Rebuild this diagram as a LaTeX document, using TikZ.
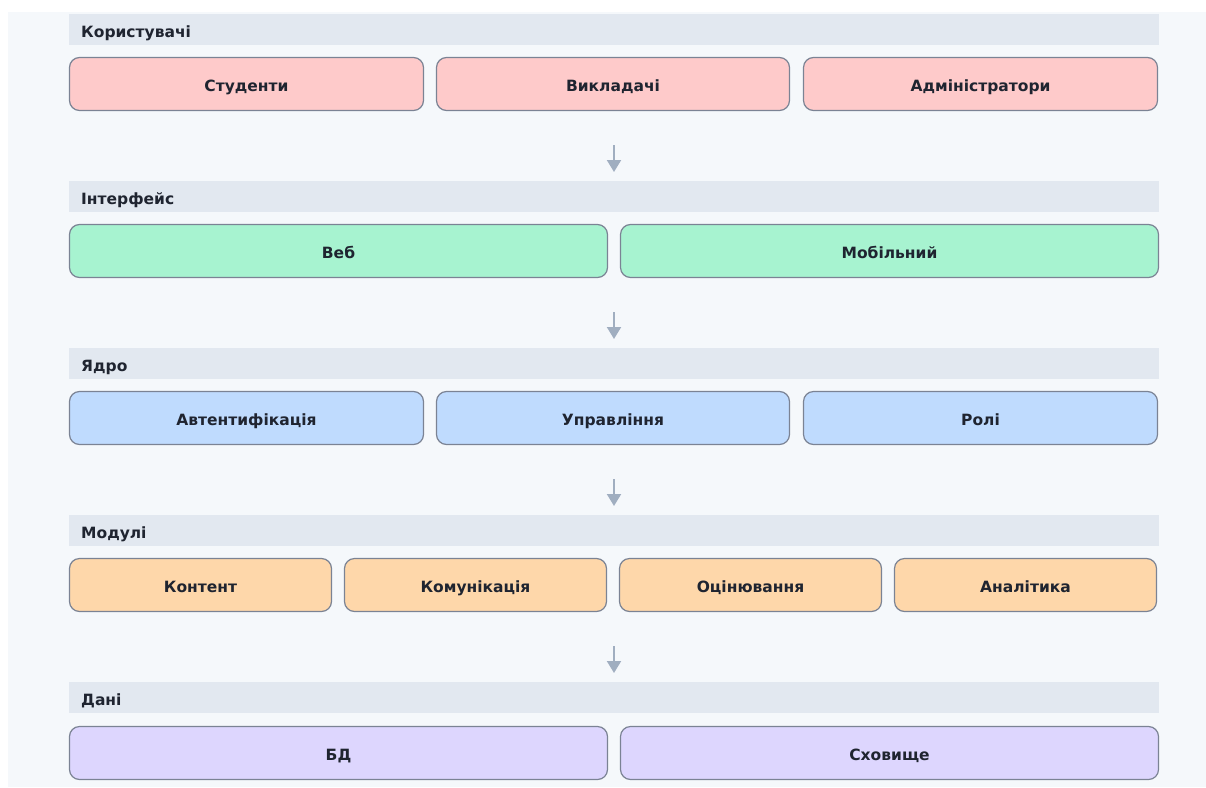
\documentclass[tikz,border=0pt]{standalone}
\usepackage{fontspec}
\setmainfont{DejaVu Sans}
\usetikzlibrary{arrows.meta}
\definecolor{bgc}{HTML}{F5F8FB}
\definecolor{hdr}{HTML}{E2E8F0}
\definecolor{edge}{HTML}{7B8394}
\definecolor{txt}{HTML}{1F2430}
\definecolor{arrc}{HTML}{A0AEC0}
\definecolor{cpink}{HTML}{FECACA}
\definecolor{cgreen}{HTML}{A7F3D0}
\definecolor{cblue}{HTML}{BFDBFE}
\definecolor{corange}{HTML}{FED7AA}
\definecolor{cpurple}{HTML}{DDD6FE}
\tikzset{
  box/.style={draw=edge, line width=1.2pt, rounded corners=10pt, minimum height=53pt, inner sep=0pt, text height=15pt, text depth=0pt, font=\fontsize{15.5}{18}\selectfont\bfseries, text=txt},
  hbar/.style={fill=hdr, draw=none, minimum width=1090pt, minimum height=31pt, inner sep=0pt},
  htext/.style={anchor=base west, inner sep=0pt, font=\fontsize{15.5}{18}\selectfont\bfseries, text=txt},
  arr/.style={draw=arrc, line width=2pt, -{Triangle[width=14pt,length=12pt]}}
}
\begin{document}
\begin{tikzpicture}[x=1pt,y=-1pt]
\useasboundingbox (0,0) rectangle (1206,787);
\fill[bgc] (8,12) rectangle (1206,787);
% headers
\foreach \k/\t in {0/Користувачі,1/Інтерфейс,2/Ядро,3/Модулі,4/Дані}{
  \node[hbar] (h\k) at (614,29.5+167*\k) {};
  \node[htext] (ht\k) at (81,37+167*\k) {\t};
}
% row 1
\node[box, fill=cpink, minimum width=354pt] (u1) at (246.5,84) {Студенти};
\node[box, fill=cpink, minimum width=353pt] (u2) at (613,84) {Викладачі};
\node[box, fill=cpink, minimum width=354pt] (u3) at (980.5,84) {Адміністратори};
% row 2
\node[box, fill=cgreen, minimum width=538pt] (i1) at (338.5,251) {Веб};
\node[box, fill=cgreen, minimum width=538pt] (i2) at (889.5,251) {Мобільний};
% row 3
\node[box, fill=cblue, minimum width=354pt] (c1) at (246.5,418) {Автентифікація};
\node[box, fill=cblue, minimum width=353pt] (c2) at (613,418) {Управління};
\node[box, fill=cblue, minimum width=354pt] (c3) at (980.5,418) {Ролі};
% row 4
\node[box, fill=corange, minimum width=262pt] (m1) at (200.5,585) {Контент};
\node[box, fill=corange, minimum width=262pt] (m2) at (475.5,585) {Комунікація};
\node[box, fill=corange, minimum width=262pt] (m3) at (750.5,585) {Оцінювання};
\node[box, fill=corange, minimum width=262pt] (m4) at (1025.5,585) {Аналітика};
% row 5
\node[box, fill=cpurple, minimum width=538pt] (d1) at (338.5,753) {БД};
\node[box, fill=cpurple, minimum width=538pt] (d2) at (889.5,753) {Сховище};
% arrows
\foreach \k in {0,1,2,3}{
  \coordinate (as\k) at (614,145+167*\k);
  \coordinate (ae\k) at (614,172+167*\k);
  \draw[arr] (as\k) -- (ae\k);
}
\end{tikzpicture}
\end{document}
